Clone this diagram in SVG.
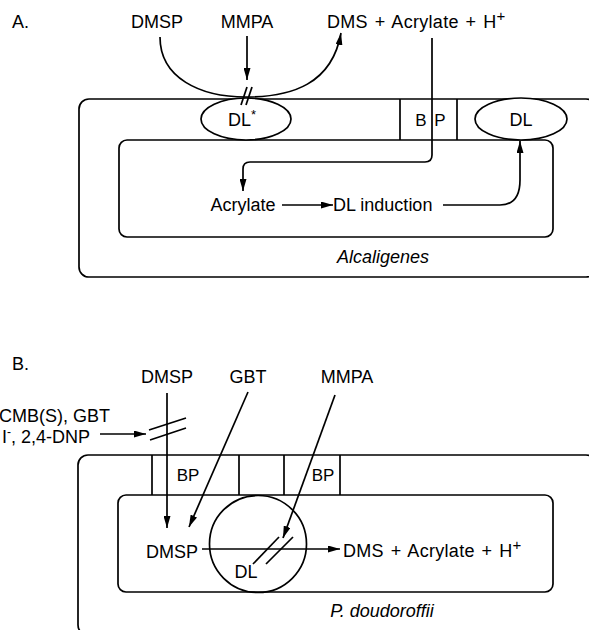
<svg xmlns="http://www.w3.org/2000/svg" width="589" height="630" viewBox="0 0 589 630">
<style>
text{font-family:"Liberation Sans",Arial,sans-serif;font-size:18px;fill:#000}
.it{font-style:italic}
.s{font-size:17px}
.ws{word-spacing:1.5px;letter-spacing:0.3px}
.ln{fill:none;stroke:#000;stroke-width:1.7}
.sh{fill:#fff;stroke:#000;stroke-width:1.7}
.ar{fill:none;stroke:#000;stroke-width:1.7;marker-end:url(#ah)}
</style>
<defs>
<marker id="ah" viewBox="0 0 12 7" refX="12" refY="3.5" markerWidth="12" markerHeight="7" markerUnits="userSpaceOnUse" orient="auto">
<path d="M0,0 L12,3.5 L0,7 z" fill="#000"/>
</marker>
</defs>

<!-- Panel A -->
<g id="panelA">
<text x="12" y="28">A.</text>
<g id="cellA">
<rect class="ln" x="79" y="99" width="517" height="178" rx="10"/>
<rect class="ln" x="119" y="140" width="434" height="97" rx="8"/>
<line class="ln" x1="400" y1="99" x2="400" y2="140"/>
<line class="ln" x1="457" y1="99" x2="457" y2="140"/>
<text class="it" x="383" y="263" text-anchor="middle">Alcaligenes</text>
</g>
<g id="bpA">
<text class="s" x="421" y="126" text-anchor="middle">B</text>
<text class="s" x="440" y="126" text-anchor="middle">P</text>
</g>
<g id="dlstarA">
<ellipse class="sh" cx="246" cy="119" rx="45" ry="21"/>
<text x="242" y="126" text-anchor="middle">DL<tspan font-size="13" dy="-7">*</tspan></text>
</g>
<g id="dlA">
<ellipse class="sh" cx="521" cy="119" rx="46" ry="21"/>
<text x="521" y="126" text-anchor="middle">DL</text>
</g>
<g id="dmspA"><text x="157" y="28" text-anchor="middle">DMSP</text></g>
<g id="mmpaA"><text x="247" y="28" text-anchor="middle">MMPA</text></g>
<g id="productsA"><text class="ws" x="327" y="28">DMS + Acrylate + H<tspan font-size="15" dy="-7">+</tspan></text></g>
<g id="acrylateA"><text x="243" y="211" text-anchor="middle">Acrylate</text></g>
<g id="inductionA"><text x="333" y="211">DL induction</text></g>
</g>

<!-- Panel B -->
<g id="panelB">
<text x="12" y="370">B.</text>
<g id="cellB">
<rect class="ln" x="78" y="455" width="518" height="180" rx="10"/>
<rect class="ln" x="118" y="495" width="435" height="97" rx="8"/>
<line class="ln" x1="152" y1="455" x2="152" y2="495"/>
<line class="ln" x1="239" y1="455" x2="239" y2="495"/>
<line class="ln" x1="284" y1="455" x2="284" y2="495"/>
<line class="ln" x1="340" y1="455" x2="340" y2="495"/>
<text class="it" x="382" y="617" text-anchor="middle">P. doudoroffii</text>
</g>
<g id="bp1B"><text class="s" x="188" y="481" text-anchor="middle">BP</text></g>
<g id="bp2B"><text class="s" x="323" y="481" text-anchor="middle">BP</text></g>
<g id="dlB">
<circle class="ln" cx="258" cy="544" r="48.5"/>
<text x="246" y="578" text-anchor="middle">DL</text>
</g>
<g id="dmspB"><text x="167" y="383" text-anchor="middle">DMSP</text></g>
<g id="gbtB"><text x="248" y="383" text-anchor="middle">GBT</text></g>
<g id="mmpaB"><text x="347" y="383" text-anchor="middle">MMPA</text></g>
<g id="inhibB">
<text x="110" y="422" text-anchor="end">CMB(S), GBT</text>
<text x="90" y="443" text-anchor="end">I<tspan font-size="12" dy="-7">-</tspan><tspan dy="7">, 2,4-DNP</tspan></text>
</g>
<g id="dmspInB"><text x="172" y="558" text-anchor="middle">DMSP</text></g>
<g id="productsB"><text class="ws" x="343" y="557">DMS + Acrylate + H<tspan font-size="15" dy="-7">+</tspan></text></g>
</g>

<!-- Connectors -->
<g id="connectors">
<path class="ar" d="M160,37 C160,78 200,97 246,97 C292,97 332,84 341,33"/>
<line class="ar" x1="247" y1="36" x2="247" y2="80"/>
<line class="ln" x1="241" y1="105" x2="247" y2="87"/>
<line class="ln" x1="246" y1="105" x2="252" y2="87"/>
<path class="ar" d="M432,38 V155 Q432,162 425,162 H250 Q243,162 243,169 V191"/>
<line class="ar" x1="282" y1="205" x2="333" y2="205"/>
<path class="ar" d="M443,205 H500 C515,205 520,195 520,180 V141"/>

<line class="ar" x1="167" y1="393" x2="167" y2="528"/>
<line class="ln" x1="149" y1="430" x2="186" y2="418"/>
<line class="ln" x1="150" y1="440" x2="186" y2="428"/>
<line class="ar" x1="100" y1="434" x2="146" y2="434"/>
<line class="ar" x1="248" y1="392" x2="189" y2="527"/>
<line class="ar" x1="335" y1="395" x2="283" y2="538"/>
<line class="ar" x1="202" y1="549" x2="340" y2="549"/>
<line class="ln" x1="253" y1="564" x2="279" y2="537"/>
<line class="ln" x1="266" y1="564" x2="293" y2="537"/>
</g>
</svg>
